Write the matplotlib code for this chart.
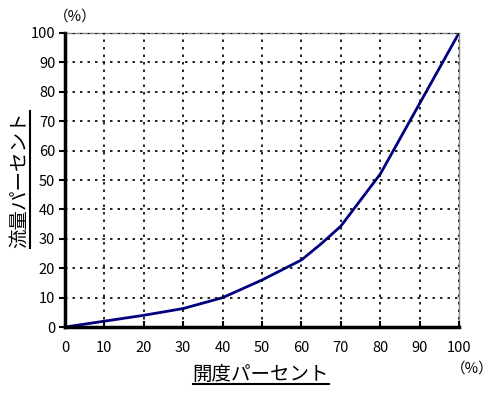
import matplotlib.pyplot as plt
from matplotlib.lines import Line2D

plt.rcParams['font.family'] = ['Noto Sans CJK JP', 'DejaVu Sans']

# 開度 (%) vs 流量 (%)
opening = [0, 10, 20, 30, 40, 50, 60, 65, 70, 80, 90, 100]
flow = [0, 2, 4, 6.3, 10, 16, 22.8, 28.3, 34.3, 52, 76, 100]
ticks = [0, 10, 20, 30, 40, 50, 60, 70, 80, 90, 100]

fig = plt.figure(figsize=(5, 3.95), dpi=100)
ax = fig.add_axes([0.13, 0.172, 0.788, 0.7445])

ax.plot(opening, flow, color='#000080', linewidth=2, solid_joinstyle='round')

ax.set_xlim(0, 100)
ax.set_ylim(0, 100)
ax.set_xticks(ticks)
ax.set_yticks(ticks)
ax.tick_params(axis='x', direction='in', length=4, width=1.5, labelsize=10.5, pad=10)
ax.tick_params(axis='y', direction='out', length=4, width=1.5, labelsize=10.5, pad=3)

ax.grid(True, color='black', linestyle=(0, (1.5, 3)), linewidth=1.2)

for side in ['left', 'bottom']:
    ax.spines[side].set_linewidth(2.5)
    ax.spines[side].set_color('black')
for side in ['top', 'right']:
    ax.spines[side].set_linewidth(1)
    ax.spines[side].set_color('#888888')
ax.set_axisbelow(False)

xl = fig.text(0.522, 0.025, '開度パーセント', fontsize=14, ha='center', va='bottom')
yl = fig.text(0.04, 0.545, '流量パーセント', fontsize=14, ha='center', va='center',
              rotation=90)
fig.text(0.15, 0.957, '（%）', fontsize=10.5, ha='center', va='center')
fig.text(0.944, 0.068, '（%）', fontsize=10.5, ha='center', va='center')

# underline the axis titles
fig.canvas.draw()
r = fig.canvas.get_renderer()
inv = fig.transFigure.inverted()
bb = xl.get_window_extent(r).transformed(inv)
fig.add_artist(Line2D([bb.x0, bb.x1], [bb.y0 + 0.002, bb.y0 + 0.002],
                      transform=fig.transFigure, color='black', linewidth=1.5))
bb = yl.get_window_extent(r).transformed(inv)
fig.add_artist(Line2D([bb.x1 - 0.002, bb.x1 - 0.002], [bb.y0, bb.y1],
                      transform=fig.transFigure, color='black', linewidth=1.5))

fig.savefig('out.png', dpi=100)
